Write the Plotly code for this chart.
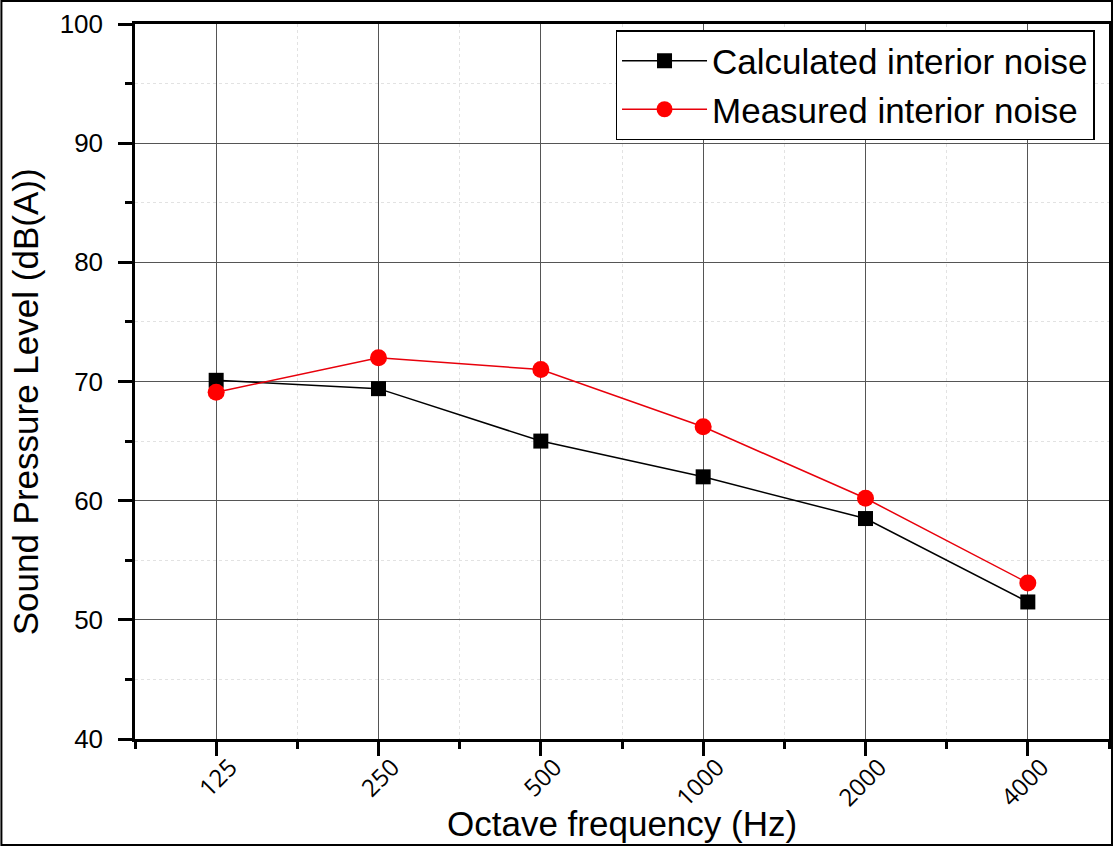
import plotly.graph_objects as go

freq_labels = ["125", "250", "500", "1000", "2000", "4000"]
calculated = [70.1, 69.4, 65.0, 62.0, 58.5, 51.5]
measured = [69.1, 72.0, 71.0, 66.2, 60.2, 53.1]
y_ticks = [40, 50, 60, 70, 80, 90, 100]

xpos = list(range(len(freq_labels)))

W, H = 1116, 846
ml, mr, mt, mb = 135, 4, 24, 107
pw, ph = W - ml - mr, H - mt - mb

fig = go.Figure()
fig.add_trace(go.Scatter(
    x=xpos, y=calculated, mode="lines+markers", name="Calculated interior noise",
    line=dict(color="black", width=1.5),
    marker=dict(symbol="square", size=15, color="black"),
))
fig.add_trace(go.Scatter(
    x=xpos, y=measured, mode="lines+markers", name="Measured interior noise",
    line=dict(color="#e8000b", width=1.5),
    marker=dict(symbol="circle", size=17, color="#ff0000"),
))

axis_common = dict(
    showline=True, linecolor="black", linewidth=2.5, mirror=True,
    ticks="outside", ticklen=14, tickwidth=2.5, tickcolor="black",
    showgrid=True, gridcolor="#555555", gridwidth=1.2,
    zeroline=False,
)

fig.update_xaxes(
    **axis_common,
    range=[-0.5, 5.5], tickmode="array", tickvals=xpos, ticktext=freq_labels,
    tickangle=-45, tickfont=dict(family="Open Sans", size=24, color="black"),
    ticklabelshift=14, ticklabelstandoff=-12,
    minor=dict(tick0=-0.5, dtick=1, ticks="outside", ticklen=7, tickwidth=2.5,
               tickcolor="black", showgrid=True, gridcolor="#e2e2e2",
               griddash="dot", gridwidth=1),
)
fig.update_yaxes(
    **axis_common,
    range=[40, 100], tickmode="array", tickvals=y_ticks,
    tickfont=dict(family="Liberation Sans", size=26, color="black"),
    ticklabelstandoff=10,
    minor=dict(tick0=40, dtick=5, ticks="outside", ticklen=7, tickwidth=2.5,
               tickcolor="black", showgrid=True, gridcolor="#e2e2e2",
               griddash="dot", gridwidth=1),
)

title_font = dict(family="Liberation Sans", size=35, color="black")
fig.add_annotation(text="Octave frequency (Hz)", xref="paper", yref="paper",
                   x=0.5, y=(739 - 823) / ph, xanchor="center", yanchor="middle",
                   showarrow=False, font=title_font)
fig.add_annotation(text="Sound Pressure Level (dB(A))", xref="paper", yref="paper",
                   x=(25 - ml) / pw, y=(739 - 402) / ph, xanchor="center", yanchor="middle",
                   textangle=-90, showarrow=False, font=title_font)

fig.add_shape(type="rect", xref="paper", yref="paper",
              x0=(-ml + 1) / pw, x1=1 + (mr - 1) / pw,
              y0=(-mb + 1) / ph, y1=1 + (mt - 1) / ph,
              line=dict(color="black", width=2), layer="above")

fig.update_layout(
    width=W, height=H,
    margin=dict(l=ml, r=mr, t=mt, b=mb),
    paper_bgcolor="white", plot_bgcolor="white",
    font=dict(family="Liberation Sans", color="black"),
    showlegend=True,
    legend=dict(
        x=(617 - ml) / pw, y=(739 - 30) / ph, xanchor="left", yanchor="top",
        bgcolor="white", bordercolor="black", borderwidth=1.5,
        font=dict(family="Liberation Sans", size=35, color="black"),
        itemwidth=85, tracegroupgap=0,
    ),
)

fig.write_html("out.html", config={"displayModeBar": False},
               post_script="document.body.style.margin='0px';")
